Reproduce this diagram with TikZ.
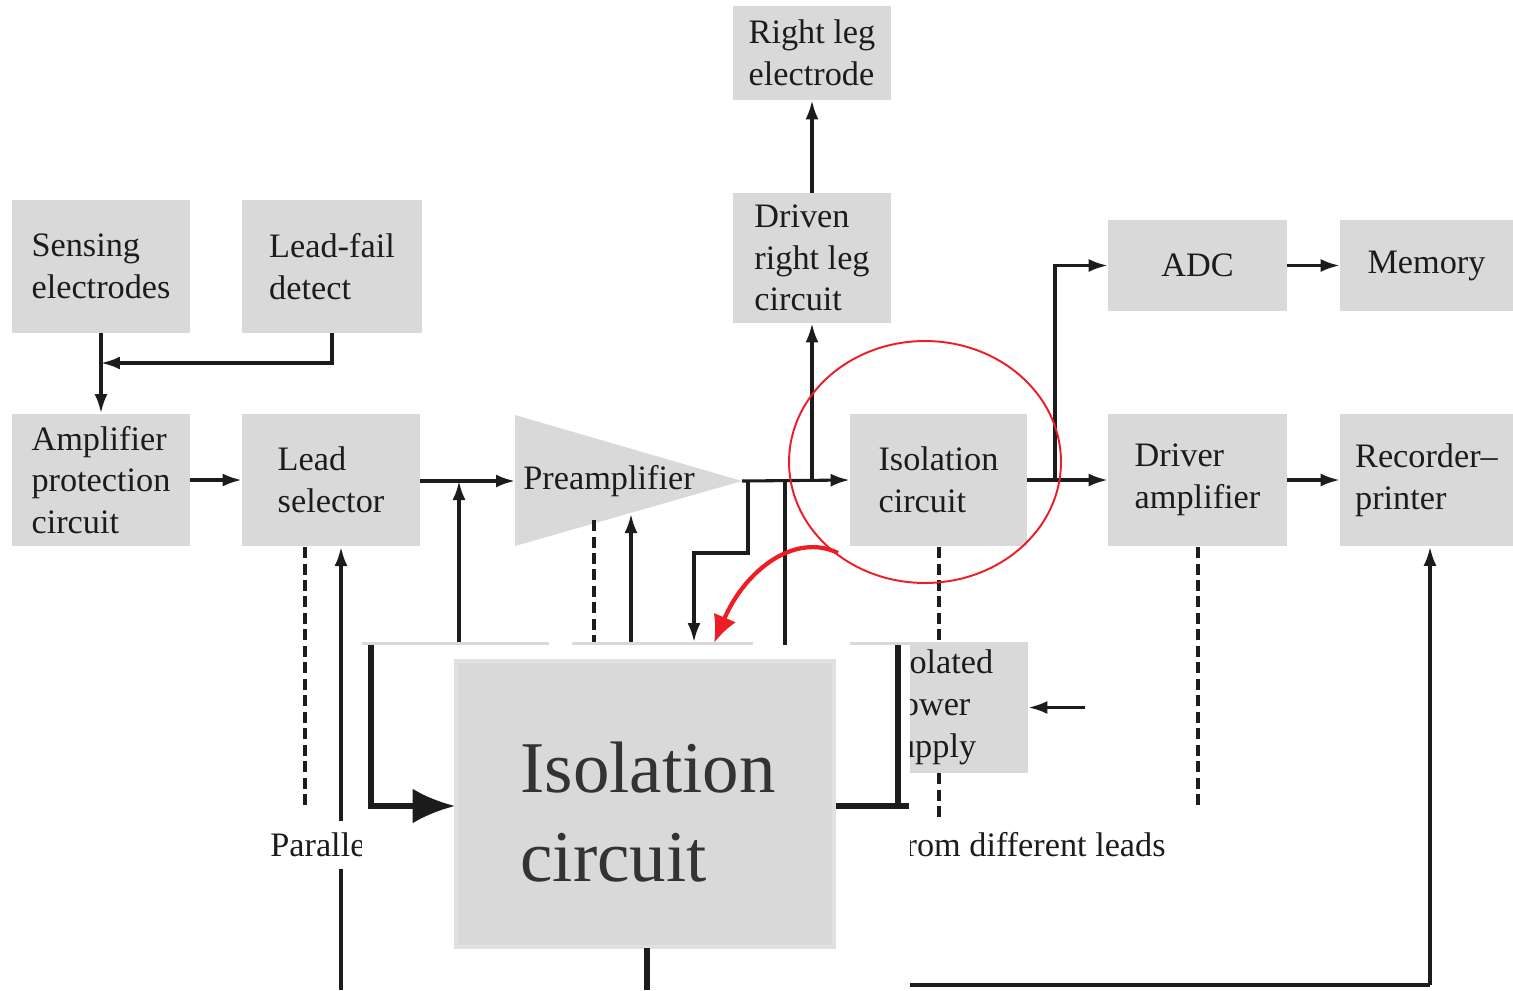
\documentclass[tikz,border=0pt]{standalone}
\usepackage{fontspec}
\setmainfont{Liberation Serif}
\usetikzlibrary{arrows.meta}
\definecolor{boxgray}{HTML}{D9D9D9}
\definecolor{ink}{HTML}{1C1C1C}
\definecolor{mark}{HTML}{EE1C24}
\begin{document}
\begin{tikzpicture}[x=0.02cm,y=-0.02cm,
  box/.style={fill=boxgray, draw=none, text=ink, align=left, inner sep=0pt,
              font=\fontsize{19.5}{23.8}\selectfont},
  lbl/.style={text=ink, inner sep=0pt, font=\fontsize{19.5}{23.8}\selectfont},
  wire/.style={draw=ink, line width=1.75pt},
  arr/.style={wire, -{Latex[length=0.38cm,width=0.26cm]}},
  dashwire/.style={draw=ink, line width=1.9pt, dash pattern=on 0.22cm off 0.11cm},
  bigwire/.style={draw=ink, line width=3pt},
  redline/.style={draw=mark, line width=1.1pt}]
\useasboundingbox (0,0) rectangle (1513,990);

% ---- blocks ----
\node[box, minimum width=3.16cm, minimum height=1.88cm] (rle) at (812,53) {Right leg\\electrode};
\node[box, minimum width=3.16cm, minimum height=2.60cm] (drl) at (812,258) {Driven\\right leg\\circuit};
\node[box, minimum width=3.56cm, minimum height=2.66cm] (sens) at (101,266.5) {Sensing\\electrodes};
\node[box, minimum width=3.60cm, minimum height=2.66cm] (lfd) at (332,266.5) {Lead-fail\\detect};
\node[box, minimum width=3.56cm, minimum height=2.66cm] (app) at (101,480) {Amplifier\\protection\\circuit};
\node[box, minimum width=3.56cm, minimum height=2.66cm] (lsel) at (331,480) {Lead\\selector};
\node[box, minimum width=3.54cm, minimum height=2.66cm] (iso) at (938.5,480) {Isolation\\circuit};
\node[box, minimum width=3.58cm, minimum height=1.82cm] (adc) at (1197.5,265.5) {ADC};
\node[box, minimum width=3.46cm, minimum height=1.82cm] (mem) at (1426.5,265.5) {Memory};
\node[box, minimum width=3.58cm, minimum height=2.66cm] (drv) at (1197.5,480) {Driver\\amplifier};
\node[box, minimum width=3.46cm, minimum height=2.66cm] (rec) at (1426.5,480) {Recorder–\\printer};
\node[box, minimum width=3.56cm, minimum height=2.62cm] (ips) at (939,707.5) {Isolated\\power\\supply};

% preamplifier triangle
\fill[boxgray] (515,415) -- (742,481) -- (515,546) -- cycle;
\node[lbl] (pre) at (609,481) {Preamplifier};
\coordinate (prein) at (515,481);
\coordinate (preout) at (742,481);

% blocks of the lower row (mostly hidden)
\fill[boxgray] (362,642) rectangle (549,760);
\fill[boxgray] (572,642) rectangle (753,760);

% ---- connectors ----
\coordinate (j1) at (101,363);
\draw[arr] (sens.south) -- (app.north);
\draw[arr] (lfd.south) |- (j1);
\draw[arr] (app.east) -- (lsel.west);
\draw[arr] (lsel.east |- prein) -- (prein);
\coordinate (j2) at (459,481);
\draw[arr] (459,642) -- (j2);

% lead selector lower links
\draw[dashwire] (305,547) -- (305,810);
\coordinate (pbot) at (341,990);
\draw[arr] (pbot) -- (341,547);

% preamplifier lower links
\draw[dashwire] (594,520) -- (594,642);
\draw[arr] (631,642) -- (631,514);
\coordinate (k1) at (748,481);
\draw[arr] (k1) -- (748,553) -- (694,553) -- (694,642);
\draw[wire] (785,481) -- (785,645);

% main signal path
\draw[arr] (preout) -- (iso.west);
\coordinate (k2) at (812,481);
\draw[arr] (k2) -- (drl.south);
\draw[arr] (drl.north) -- (rle.south);
\draw[arr] (iso.east) -- (drv.west);
\coordinate (k3) at (1055,481);
\draw[arr] (k3) |- (adc.west);
\draw[arr] (adc.east) -- (mem.west);
\draw[arr] (drv.east) -- (rec.west);

% isolation links
\draw[dashwire] (939,547) -- (ips.north);
\draw[dashwire] (ips.south) -- (939,820);
\draw[dashwire] (1198,547) -- (1198,810);
\coordinate (pin) at (1085,707.5);
\draw[arr] (pin) -- (ips.east);

% recorder feed
\coordinate (rbot) at (1430,985);
\draw[wire] (860,985) -- (rbot);
\draw[arr] (rbot) -- (rbot |- rec.south);

% bottom caption
\node[lbl, anchor=west, fill=white, inner xsep=0pt, inner ysep=0.24cm] (cap1) at (270,845) {Parallel};
\node[lbl, anchor=east] (cap2) at (1166,845) {from different leads};

% ---- enlarged view ----
\fill[white] (362,645) rectangle (910,990);
\fill[boxgray] (455,660) rectangle (835,948);
\draw[draw=white!88!black, line width=2pt] (456,661) rectangle (834,947);
\node[text=ink!90, align=left, inner sep=0pt,
      font=\fontsize{41.5}{51}\selectfont] (big) at (648,812) {Isolation\\circuit};
\coordinate (bl) at (455,806);
\coordinate (br) at (836,806);
\draw[bigwire, -{Latex[length=0.85cm,width=0.7cm]}] (371,645) |- (bl);
\draw[bigwire] (br) -- (909,806);
\draw[bigwire] (898,645) -- (898,806);
\draw[bigwire] (647,948) -- (647,990);

% ---- highlight ----
\draw[redline] (925,462) ellipse [x radius=2.72cm, y radius=2.42cm];
\coordinate (ra) at (838,553);
\coordinate (rb) at (714,643);
\draw[draw=mark, line width=2.4pt, -{Latex[length=0.55cm,width=0.48cm]}]
  (ra) .. controls (795,532) and (745,570) .. (rb);
\end{tikzpicture}
\end{document}
